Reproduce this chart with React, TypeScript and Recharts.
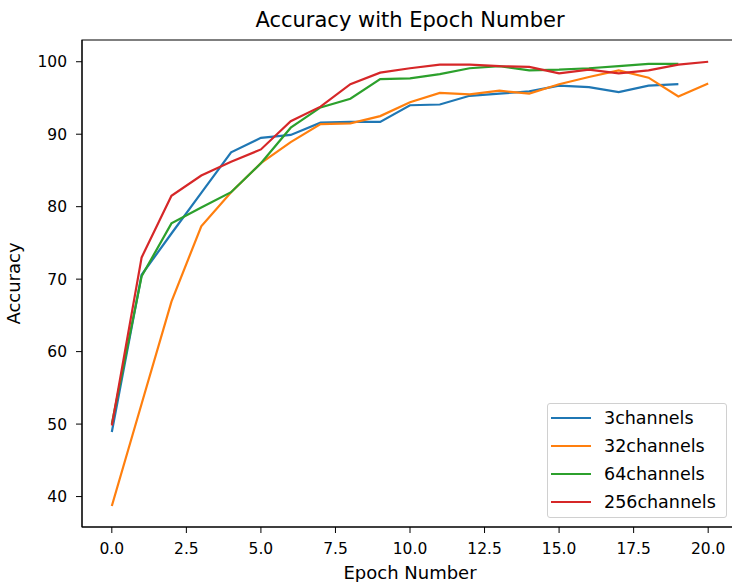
import React from 'react';
import { LineChart, Line, XAxis, YAxis, ReferenceArea, Legend } from 'recharts';

const FONT = '"DejaVu Sans", sans-serif';

// epochs and accuracy per run
const epochs = [0, 1, 2, 3, 4, 5, 6, 7, 8, 9, 10, 11, 12, 13, 14, 15, 16, 17, 18, 19, 20];
const acc3 = [48.9, 70.6, 76.3, 81.9, 87.5, 89.5, 89.9, 91.6, 91.7, 91.7, 94.0, 94.1, 95.3, 95.6, 95.9, 96.7, 96.5, 95.8, 96.7, 96.9];
const acc32 = [38.7, 52.8, 66.9, 77.3, 82.0, 86.0, 88.9, 91.4, 91.5, 92.5, 94.4, 95.7, 95.5, 96.0, 95.6, 96.9, 97.9, 98.8, 97.8, 95.2, 97.0];
const acc64 = [50.0, 70.4, 77.7, 79.9, 82.0, 86.0, 90.9, 93.7, 94.9, 97.6, 97.7, 98.3, 99.1, 99.4, 98.8, 98.9, 99.1, 99.4, 99.7, 99.7];
const acc256 = [49.8, 73.0, 81.5, 84.3, 86.2, 87.9, 91.8, 93.8, 96.9, 98.5, 99.1, 99.6, 99.6, 99.4, 99.3, 98.4, 98.9, 98.4, 98.8, 99.6, 100.0];

const xTicks = [0, 2.5, 5, 7.5, 10, 12.5, 15, 17.5, 20];
const yTicks = [40, 50, 60, 70, 80, 90, 100];

const SERIES = [
  { key: 'c3', name: '3channels', color: '#1f77b4', values: acc3 },
  { key: 'c32', name: '32channels', color: '#ff7f0e', values: acc32 },
  { key: 'c64', name: '64channels', color: '#2ca02c', values: acc64 },
  { key: 'c256', name: '256channels', color: '#d62728', values: acc256 },
];

const data = epochs.map((epoch, i) => {
  const row: any = { epoch };
  SERIES.forEach(s => {
    if (i < s.values.length) row[s.key] = s.values[i];
  });
  return row;
});

const X_DOMAIN = [-1, 21];
const Y_DOMAIN = [35.8, 103];

const renderLegend = () => (
  <div
    style={{
      boxSizing: 'border-box',
      width: 180,
      height: 115,
      border: '1px solid #d0d0d0',
      borderRadius: 3,
      background: 'rgba(255,255,255,0.8)',
      fontFamily: FONT,
      fontSize: 17.5,
      color: '#000',
    }}
  >
    {SERIES.map(s => (
      <div key={s.key} style={{ height: 28, display: 'flex', alignItems: 'center' }}>
        <div style={{ width: 40, height: 2.2, marginLeft: 3, background: s.color }} />
        <span style={{ marginLeft: 13, lineHeight: '28px' }}>{s.name}</span>
      </div>
    ))}
  </div>
);

export default function App() {
  return (
    <div
      style={{
        position: 'absolute',
        left: 0,
        top: 0,
        width: 732,
        height: 582,
        overflow: 'hidden',
        background: '#fff',
      }}
    >
      <div
        style={{
          position: 'absolute',
          left: 82,
          top: 10,
          width: 656,
          textAlign: 'center',
          fontFamily: FONT,
          fontSize: 21,
          lineHeight: '21px',
          color: '#000',
        }}
      >
        Accuracy with Epoch Number
      </div>
      <LineChart
        width={760}
        height={582}
        data={data}
        margin={{ top: 40, right: 22, bottom: 0, left: 0 }}
      >
        <ReferenceArea
          x1={X_DOMAIN[0]}
          x2={X_DOMAIN[1]}
          y1={Y_DOMAIN[0]}
          y2={Y_DOMAIN[1]}
          fill="none"
          stroke="#000"
          strokeWidth={1.1}
        />
        <XAxis
          type="number"
          dataKey="epoch"
          domain={X_DOMAIN}
          ticks={xTicks}
          allowDataOverflow
          height={55}
          tickSize={6}
          tickMargin={10}
          tickFormatter={(v: number) => v.toFixed(1)}
          stroke="#000"
          tick={{ fill: '#000', fontSize: 15.5, fontFamily: FONT }}
          label={{
            value: 'Epoch Number',
            position: 'insideBottom',
            offset: 3,
            fill: '#000',
            fontSize: 18,
            fontFamily: FONT,
          }}
        />
        <YAxis
          type="number"
          domain={Y_DOMAIN}
          ticks={yTicks}
          allowDataOverflow
          width={82}
          tickSize={6}
          tickMargin={9}
          stroke="#000"
          tick={{ fill: '#000', fontSize: 15.5, fontFamily: FONT }}
          label={{
            value: 'Accuracy',
            angle: -90,
            position: 'insideLeft',
            offset: 14,
            fill: '#000',
            fontSize: 18,
            fontFamily: FONT,
            style: { textAnchor: 'middle' },
          }}
        />
        {SERIES.map(s => (
          <Line
            key={s.key}
            type="linear"
            dataKey={s.key}
            name={s.name}
            stroke={s.color}
            strokeWidth={2.2}
            dot={false}
            activeDot={false}
            isAnimationActive={false}
          />
        ))}
        <Legend
          layout="vertical"
          align="center"
          verticalAlign="middle"
          content={renderLegend}
          wrapperStyle={{ left: 547, top: 403, width: 180, height: 115 }}
        />
      </LineChart>
    </div>
  );
}
